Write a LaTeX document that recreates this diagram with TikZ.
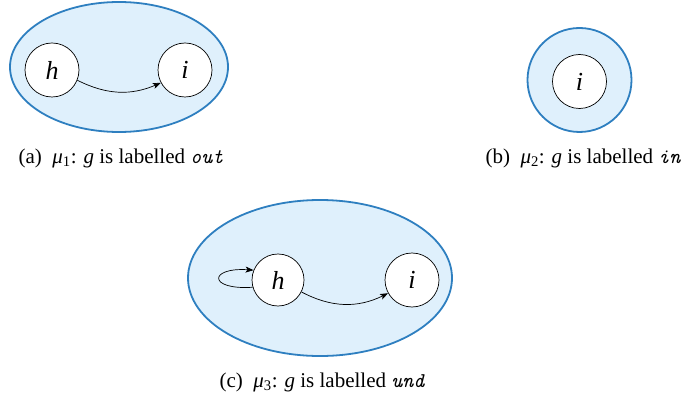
\documentclass[tikz,border=0pt]{standalone}
\usepackage{fontspec}
\setmainfont{Liberation Serif}
\usetikzlibrary{shapes.geometric,arrows.meta}
\definecolor{regfill}{HTML}{DFF0FC}
\definecolor{regdraw}{HTML}{2E7FC0}
\begin{document}
\begin{tikzpicture}[x=1pt,y=-1pt,
  region/.style={ellipse,draw=regdraw,fill=regfill,line width=1.8pt,inner sep=0pt},
  state/.style={circle,draw=black,fill=white,line width=0.7pt,minimum size=54pt,inner sep=0pt,font=\fontsize{26}{28}\selectfont\itshape},
  edge/.style={-{Stealth[length=8pt,width=6pt,inset=2pt]},line width=0.7pt},
  captext/.style={font=\fontsize{21}{25}\selectfont,inner sep=0pt}]
\useasboundingbox (0,0) rectangle (684,403);
% (a)
\node[region,minimum width=218pt,minimum height=130pt] (ra) at (119,67) {};
\node[state] (ha) at (52,70) {h};
\node[state] (ia) at (185,70) {i};
\draw[edge] (ha.-22) to[bend right=25] (ia.-152);
\node[captext] (capa) at (121,158) {(a)\ \ {\itshape μ}\textsubscript{1}: {\itshape g} is labelled {\ttfamily\itshape out}};
% (b)
\node[region,circle,minimum size=104pt] (rb) at (579.5,80) {};
\node[state] (ib) at (579.5,81.5) {i};
\node[captext] (capb) at (583,158) {(b)\ \ {\itshape μ}\textsubscript{2}: {\itshape g} is labelled {\ttfamily\itshape in}};
% (c)
\node[region,minimum width=264pt,minimum height=156pt] (rc) at (320,278) {};
\node[state,minimum size=52pt] (hc) at (278,280) {h};
\node[state] (ic) at (412,280) {i};
\draw[edge] (hc.196) .. controls +(-45,3) and +(-45,-3) .. (hc.158);
\draw[edge] (hc.-27) to[bend right=27] (ic.-151);
\node[captext] (capc) at (322,382) {(c)\ \ {\itshape μ}\textsubscript{3}: {\itshape g} is labelled {\ttfamily\itshape und}};
\end{tikzpicture}
\end{document}
